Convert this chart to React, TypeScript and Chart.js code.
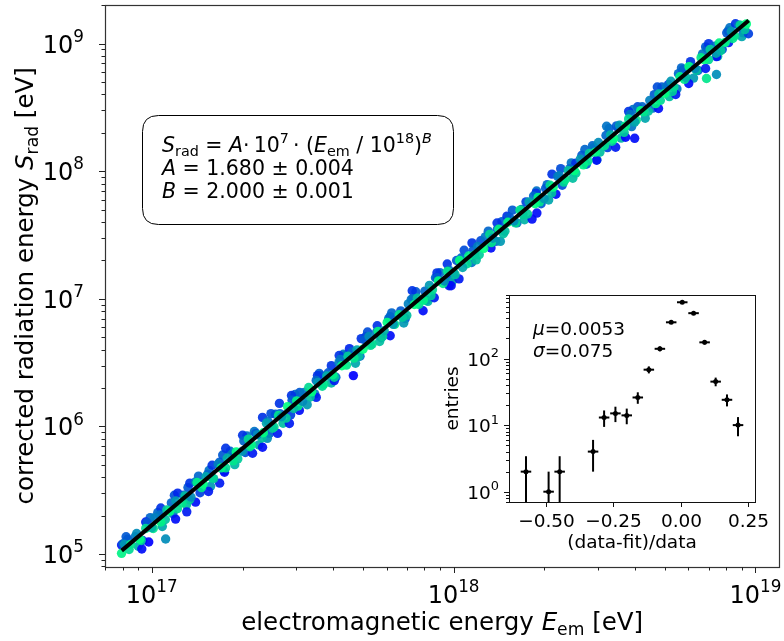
import React, { useEffect, useRef } from "react";
import { Chart, registerables } from "chart.js";
Chart.register(...registerables);

const FONT = '"DejaVu Sans", "Liberation Sans", sans-serif';

// ---------- main scatter data (log10 values) ----------
const coreLogE = [
  16.90, 16.91, 16.93, 16.95, 16.96, 16.98, 17.00, 17.01, 17.03, 17.05,
  17.06, 17.08, 17.10, 17.11, 17.13, 17.15, 17.17, 17.18, 17.20, 17.22,
  17.23, 17.25, 17.27, 17.28, 17.30, 17.32, 17.33, 17.35, 17.37, 17.38,
  17.40, 17.42, 17.43, 17.45, 17.47, 17.48, 17.50, 17.52, 17.53, 17.55,
  17.57, 17.58, 17.60, 17.62, 17.63, 17.65, 17.67, 17.68, 17.70, 17.72,
  17.73, 17.75, 17.77, 17.78, 17.80, 17.82, 17.83, 17.85, 17.87, 17.88,
  17.90, 17.92, 17.93, 17.95, 17.97, 17.98, 18.00, 18.02, 18.03, 18.05,
  18.07, 18.08, 18.10, 18.12, 18.13, 18.15, 18.17, 18.18, 18.20, 18.22,
  18.23, 18.25, 18.27, 18.28, 18.30, 18.32, 18.33, 18.35, 18.37, 18.38,
  18.40, 18.42, 18.43, 18.45, 18.47, 18.48, 18.50, 18.52, 18.53, 18.55,
  18.57, 18.58, 18.60, 18.62, 18.63, 18.65, 18.67, 18.68, 18.70, 18.72,
  18.73, 18.75, 18.77, 18.78, 18.80, 18.82, 18.83, 18.85, 18.87, 18.88,
  18.90, 18.92, 18.93, 18.95, 18.97,
];
const coreLogS = [
  5.005, 5.075, 5.075, 5.16, 5.115, 5.20, 5.205, 5.285, 5.25, 5.345,
  5.335, 5.415, 5.40, 5.455, 5.445, 5.56, 5.55, 5.605, 5.595, 5.705,
  5.675, 5.75, 5.73, 5.80, 5.805, 5.90, 5.855, 5.935, 5.95, 6.025,
  5.985, 6.085, 6.075, 6.155, 6.14, 6.20, 6.195, 6.305, 6.27, 6.345,
  6.33, 6.395, 6.405, 6.50, 6.475, 6.55, 6.535, 6.60, 6.605, 6.705,
  6.645, 6.745, 6.75, 6.815, 6.80, 6.875, 6.855, 6.96, 6.955, 7.005,
  6.99, 7.105, 7.07, 7.14, 7.14, 7.215, 7.205, 7.30, 7.245, 7.335,
  7.345, 7.41, 7.395, 7.505, 7.475, 7.545, 7.53, 7.60, 7.61, 7.695,
  7.66, 7.76, 7.745, 7.795, 7.785, 7.89, 7.875, 7.965, 7.935, 8.005,
  8.005, 8.095, 8.05, 8.14, 8.15, 8.225, 8.20, 8.285, 8.255, 8.36,
  8.355, 8.41, 8.385, 8.475, 8.465, 8.555, 8.53, 8.605, 8.61, 8.705,
  8.66, 8.74, 8.735, 8.82, 8.805, 8.89, 8.875, 8.955, 8.925, 9.005,
  9.01, 9.095, 9.06, 9.145, 9.155,
];
const coreColor = [
  0.95, 0.6, 0.9, 0.55, 1.0, 0.85, 0.7, 0.5, 0.95, 0.8,
  1.0, 0.6, 0.9, 0.75, 0.55, 0.95, 1.0, 0.65, 0.85, 0.5,
  0.95, 0.7, 0.9, 1.0, 0.6, 0.85, 0.95, 0.55, 1.0, 0.65,
  0.8, 0.9, 0.6, 1.0, 0.75, 0.95, 0.55, 0.85, 1.0, 0.6,
  0.9, 0.7, 0.95, 0.5, 1.0, 0.8, 0.9, 0.65, 1.0, 0.55,
  0.85, 0.95, 0.7, 1.0, 0.6, 0.9, 0.8, 0.5, 1.0, 0.75,
  0.95, 0.6, 0.85, 1.0, 0.55, 0.9, 0.7, 1.0, 0.65, 0.95,
  0.8, 0.5, 1.0, 0.85, 0.6, 0.95, 0.75, 1.0, 0.55, 0.9,
  0.8, 0.65, 1.0, 0.95, 0.6, 0.85, 1.0, 0.5, 0.9, 0.75,
  1.0, 0.6, 0.95, 0.8, 1.0, 0.55, 0.9, 0.7, 1.0, 0.6,
  0.95, 0.85, 0.65, 1.0, 0.9, 0.5, 0.95, 0.75, 1.0, 0.6,
  0.85, 0.95, 0.7, 1.0, 0.55, 0.9, 1.0, 0.8, 0.65, 0.95,
  1.0, 0.6, 0.9, 0.85, 1.0,
];

const midLogE = [
  16.905, 16.925, 16.945, 16.965, 16.985, 17.005, 17.025, 17.045, 17.065, 17.085,
  17.105, 17.125, 17.145, 17.165, 17.185, 17.205, 17.225, 17.245, 17.265, 17.285,
  17.305, 17.325, 17.345, 17.365, 17.385, 17.405, 17.425, 17.445, 17.465, 17.485,
  17.505, 17.525, 17.545, 17.565, 17.585, 17.605, 17.625, 17.645, 17.665, 17.685,
  17.705, 17.725, 17.745, 17.765, 17.785, 17.805, 17.825, 17.845, 17.865, 17.885,
  17.905, 17.925, 17.945, 17.965, 17.985, 18.005, 18.025, 18.045, 18.065, 18.085,
  18.105, 18.125, 18.145, 18.165, 18.185, 18.205, 18.225, 18.245, 18.265, 18.285,
  18.305, 18.325, 18.345, 18.365, 18.385, 18.405, 18.425, 18.445, 18.465, 18.485,
  18.505, 18.525, 18.545, 18.565, 18.585, 18.605, 18.625, 18.645, 18.665, 18.685,
  18.705, 18.725, 18.745, 18.765, 18.785, 18.805, 18.825, 18.845, 18.865, 18.885,
  18.905, 18.925, 18.945, 18.965,
];
const midLogS = [
  5.08, 5.035, 5.135, 5.105, 5.245, 5.20, 5.305, 5.27, 5.40, 5.355,
  5.46, 5.425, 5.565, 5.52, 5.625, 5.59, 5.72, 5.675, 5.78, 5.745,
  5.885, 5.84, 5.945, 5.91, 6.04, 5.995, 6.10, 6.065, 6.205, 6.16,
  6.265, 6.23, 6.36, 6.315, 6.42, 6.385, 6.525, 6.48, 6.585, 6.55,
  6.68, 6.635, 6.74, 6.705, 6.845, 6.80, 6.905, 6.87, 7.00, 6.955,
  7.06, 7.025, 7.165, 7.12, 7.225, 7.19, 7.32, 7.275, 7.38, 7.345,
  7.485, 7.44, 7.545, 7.51, 7.64, 7.595, 7.70, 7.665, 7.805, 7.76,
  7.865, 7.83, 7.96, 7.915, 8.02, 7.985, 8.125, 8.08, 8.185, 8.15,
  8.28, 8.235, 8.34, 8.305, 8.445, 8.40, 8.505, 8.47, 8.60, 8.555,
  8.66, 8.625, 8.765, 8.72, 8.825, 8.79, 8.92, 8.875, 8.98, 8.945,
  9.085, 9.04, 9.145, 9.11,
];
const midColor = [
  0.4, 0.85, 0.45, 0.8, 0.35, 0.9, 0.45, 0.75, 0.4, 0.85,
  0.35, 0.8, 0.45, 0.9, 0.4, 0.75, 0.35, 0.85, 0.45, 0.8,
  0.4, 0.9, 0.35, 0.75, 0.45, 0.85, 0.4, 0.8, 0.35, 0.9,
  0.45, 0.75, 0.4, 0.85, 0.35, 0.8, 0.45, 0.9, 0.4, 0.75,
  0.35, 0.85, 0.45, 0.8, 0.4, 0.9, 0.35, 0.75, 0.45, 0.85,
  0.4, 0.8, 0.35, 0.9, 0.45, 0.75, 0.4, 0.85, 0.35, 0.8,
  0.45, 0.9, 0.4, 0.75, 0.35, 0.85, 0.45, 0.8, 0.4, 0.9,
  0.35, 0.75, 0.45, 0.85, 0.4, 0.8, 0.35, 0.9, 0.45, 0.75,
  0.4, 0.85, 0.35, 0.8, 0.45, 0.9, 0.4, 0.75, 0.35, 0.85,
  0.45, 0.8, 0.4, 0.9, 0.35, 0.75, 0.45, 0.85, 0.4, 0.8,
  0.35, 0.9, 0.45, 0.75,
];

const outerLogE = [
  16.915, 16.955, 16.995, 17.035, 17.075, 17.115, 17.155, 17.195, 17.235, 17.275,
  17.315, 17.355, 17.395, 17.435, 17.475, 17.515, 17.555, 17.595, 17.635, 17.675,
  17.715, 17.755, 17.795, 17.835, 17.875, 17.915, 17.955, 17.995, 18.035, 18.075,
  18.115, 18.155, 18.195, 18.235, 18.275, 18.315, 18.355, 18.395, 18.435, 18.475,
  18.515, 18.555, 18.595, 18.635, 18.675, 18.715, 18.755, 18.795, 18.835, 18.875,
  18.915, 18.955,
];
const outerLogS = [
  5.135, 5.06, 5.285, 5.215, 5.46, 5.385, 5.61, 5.53, 5.775, 5.70,
  5.925, 5.855, 6.10, 6.025, 6.25, 6.17, 6.415, 6.34, 6.565, 6.495,
  6.74, 6.665, 6.89, 6.81, 7.055, 6.98, 7.205, 7.135, 7.38, 7.305,
  7.53, 7.45, 7.695, 7.62, 7.845, 7.775, 8.02, 7.945, 8.17, 8.09,
  8.335, 8.26, 8.485, 8.415, 8.66, 8.585, 8.81, 8.73, 8.975, 8.90,
  9.125, 9.055,
];
const outerColor = [
  0.35, 0.7, 0.4, 0.65, 0.3, 0.75, 0.4, 0.6, 0.35, 0.7,
  0.45, 0.65, 0.3, 0.75, 0.4, 0.6, 0.35, 0.7, 0.45, 0.65,
  0.3, 0.75, 0.4, 0.6, 0.35, 0.7, 0.45, 0.65, 0.3, 0.75,
  0.4, 0.6, 0.35, 0.7, 0.45, 0.65, 0.3, 0.75, 0.4, 0.6,
  0.35, 0.7, 0.45, 0.65, 0.3, 0.75, 0.4, 0.6, 0.35, 0.7,
  0.45, 0.65,
];

const fringeLogE = [
  16.92, 16.97, 17.02, 17.07, 17.12, 17.16, 17.19, 17.24, 17.26, 17.31,
  17.34, 17.39, 17.41, 17.46, 17.49, 17.54, 17.56, 17.61, 17.64, 17.69,
  17.71, 17.76, 17.79, 17.84, 17.86, 17.91, 17.94, 17.99, 18.01, 18.06,
  18.09, 18.14, 18.16, 18.21, 18.24, 18.29, 18.31, 18.36, 18.39, 18.44,
  18.46, 18.51, 18.54, 18.59, 18.61, 18.66, 18.69, 18.74, 18.76, 18.81,
  18.84, 18.89, 18.91, 18.96,
];
const fringeLogS = [
  5.115, 5.105, 5.325, 5.315, 5.52, 5.48, 5.655, 5.65, 5.805, 5.795,
  5.96, 5.945, 6.095, 6.09, 6.265, 6.255, 6.40, 6.385, 6.555, 6.55,
  6.705, 6.695, 6.86, 6.845, 6.995, 6.99, 7.165, 7.155, 7.30, 7.285,
  7.455, 7.45, 7.605, 7.595, 7.76, 7.745, 7.895, 7.89, 8.065, 8.055,
  8.20, 8.185, 8.355, 8.35, 8.505, 8.495, 8.66, 8.645, 8.795, 8.79,
  8.965, 8.955, 9.10, 9.085,
];
const fringeColor = [
  0.35, 0.3, 0.4, 0.45, 0.35, 0.25, 0.45, 0.35, 0.4, 0.3,
  0.45, 0.35, 0.4, 0.25, 0.35, 0.45, 0.3, 0.4, 0.35, 0.45,
  0.25, 0.35, 0.4, 0.3, 0.45, 0.35, 0.4, 0.25, 0.35, 0.45,
  0.3, 0.4, 0.35, 0.45, 0.25, 0.35, 0.4, 0.3, 0.45, 0.35,
  0.4, 0.25, 0.35, 0.45, 0.3, 0.4, 0.35, 0.45, 0.25, 0.35,
  0.4, 0.3, 0.45, 0.35,
];

const outLogE = [
  16.90, 16.967, 16.99, 17.046, 16.98, 17.03, 17.079, 17.086, 17.116, 17.126,
  17.145, 17.188, 17.2, 17.225, 17.241, 17.245, 17.301, 17.334, 17.367, 17.383,
  17.367, 17.417, 17.423, 17.456, 17.463, 17.489, 17.545, 17.549, 17.595, 17.605,
  17.621, 17.655, 17.668, 17.694, 17.747, 17.79, 17.863, 17.899, 17.936, 17.945,
  17.979, 17.985, 17.992, 18.018, 18.061, 18.124, 18.144, 18.177, 18.26, 18.276,
  18.273, 18.326, 18.339, 18.405, 18.474, 18.507, 18.537, 18.57, 18.6, 18.58,
  18.679, 18.712, 18.736, 18.779, 18.785, 18.835, 18.838, 18.845, 18.871, 18.871,
  18.911, 18.934, 18.977,
];
const outLogS = [
  5.07, 5.039, 5.094, 5.117, 5.25, 5.36, 5.273, 5.477, 5.33, 5.555,
  5.406, 5.49, 5.695, 5.555, 5.64, 5.828, 5.93, 5.789, 5.836, 5.906,
  6.07, 5.945, 6.18, 6.023, 6.242, 6.125, 6.227, 6.398, 6.476, 6.359,
  6.555, 6.609, 6.398, 6.688, 6.789, 6.71, 7.063, 6.906, 7.008, 7.203,
  7.273, 7.102, 7.102, 7.156, 7.438, 7.398, 7.594, 7.648, 7.625, 7.672,
  7.828, 7.977, 7.82, 8.063, 8.086, 8.352, 8.188, 8.266, 8.258, 8.469,
  8.492, 8.68, 8.602, 8.688, 8.859, 8.805, 8.727, 9.0, 8.898, 8.758,
  9.008, 9.156, 9.078,
];
const outColor = [
  0.1, 0.05, 0.0, 0.55, 0.1, 0.2, 0.05, 0.15, 0.1, 0.2,
  0.05, 0.1, 0.2, 0.1, 0.05, 0.2, 0.2, 0.1, 0.05, 0.55,
  0.2, 0.1, 0.2, 0.1, 0.2, 0.05, 0.1, 0.2, 0.2, 0.1,
  0.2, 0.15, 0.0, 0.2, 0.2, 0.05, 0.2, 0.05, 0.1, 0.2,
  0.2, 0.1, 0.05, 0.1, 0.2, 0.05, 0.2, 0.2, 0.05, 0.05,
  0.2, 0.2, 0.05, 0.2, 0.05, 0.45, 0.1, 0.0, 0.05, 0.2,
  0.05, 0.2, 0.1, 0.05, 0.2, 0.1, 0.9, 0.2, 0.05, 0.55,
  0.1, 0.2, 0.25,
];

// fit result
const fitA = 1.68;
const fitB = 2.0;
const fitERange = [7.95e16, 9.5e18];

// main axes
const xTickExps = [17, 18, 19];
const yTickExps = [5, 6, 7, 8, 9];

// ---------- inset histogram ----------
const histX = [-0.574, -0.49, -0.449, -0.325, -0.284, -0.242, -0.2, -0.159, -0.118, -0.077, -0.035, 0.006, 0.048, 0.089, 0.13, 0.172, 0.213];
const histN = [2, 1, 2, 4, 13, 15, 14, 26, 68, 140, 350, 700, 480, 175, 45, 24, 10];
const histErr = [1.41, 1, 1.41, 2, 3.6, 3.9, 3.7, 5.1, 8.2, 11.8, 18.7, 26.5, 21.9, 13.2, 6.7, 4.9, 3.2];
const histHalfBin = 0.0195;
const insetXTicks = [-0.5, -0.25, 0, 0.25];
const insetXLabels = ["\u22120.50", "\u22120.25", "0.00", "0.25"];
const insetYTickExps = [0, 1, 2];

type Seg = { t: string; it?: boolean; pos?: "sup" | "sub" };

function segFont(s: Seg, size: number) {
  const fs = s.pos ? size * 0.7 : size;
  return `${s.it ? "italic " : ""}${fs}px ${FONT}`;
}
function drawRich(ctx: CanvasRenderingContext2D, segs: Seg[], x: number, y: number, size: number, align: "left" | "center" | "right") {
  let w = 0;
  for (const s of segs) {
    ctx.font = segFont(s, size);
    w += ctx.measureText(s.t).width;
  }
  let cx = align === "center" ? x - w / 2 : align === "right" ? x - w : x;
  ctx.textAlign = "left";
  ctx.textBaseline = "alphabetic";
  for (const s of segs) {
    ctx.font = segFont(s, size);
    const dy = s.pos === "sup" ? -size * 0.45 : s.pos === "sub" ? size * 0.2 : 0;
    ctx.fillText(s.t, cx, y + dy);
    cx += ctx.measureText(s.t).width;
  }
}

function winter(c: number) {
  return `rgba(0, ${Math.round(255 * c)}, ${Math.round(255 * (1 - 0.5 * c))}, 0.92)`;
}

function pts(lx: number[], ly: number[]) {
  const n = Math.min(lx.length, ly.length);
  const out: { x: number; y: number }[] = [];
  for (let i = 0; i < n; i++) out.push({ x: Math.pow(10, lx[i]), y: Math.pow(10, ly[i]) });
  return out;
}

function roundRect(ctx: CanvasRenderingContext2D, x: number, y: number, w: number, h: number, r: number) {
  ctx.beginPath();
  ctx.moveTo(x + r, y);
  ctx.lineTo(x + w - r, y);
  ctx.quadraticCurveTo(x + w, y, x + w, y + r);
  ctx.lineTo(x + w, y + h - r);
  ctx.quadraticCurveTo(x + w, y + h, x + w - r, y + h);
  ctx.lineTo(x + r, y + h);
  ctx.quadraticCurveTo(x, y + h, x, y + h - r);
  ctx.lineTo(x, y + r);
  ctx.quadraticCurveTo(x, y, x + r, y);
  ctx.closePath();
}

const mainPlugin = {
  id: "mainDecor",
  afterDraw(chart: any) {
    const ctx: CanvasRenderingContext2D = chart.ctx;
    const ca = chart.chartArea;
    const xs = chart.scales.x;
    const ys = chart.scales.y;
    ctx.save();
    ctx.strokeStyle = "#333";
    ctx.lineWidth = 1.2;
    ctx.strokeRect(Math.round(ca.left) + 0.5, Math.round(ca.top) + 0.5, Math.round(ca.right - ca.left), Math.round(ca.bottom - ca.top));
    ctx.strokeStyle = "#222";
    ctx.lineWidth = 1;
    for (let d = 16; d <= 19; d++) {
      for (let k = 1; k <= 9; k++) {
        const v = k * Math.pow(10, d);
        if (v < xs.min || v > xs.max) continue;
        const px = Math.round(xs.getPixelForValue(v)) + 0.5;
        const len = k === 1 ? 6 : 3.5;
        ctx.beginPath();
        ctx.moveTo(px, ca.bottom);
        ctx.lineTo(px, ca.bottom + len);
        ctx.stroke();
      }
    }
    for (let d = 4; d <= 9; d++) {
      for (let k = 1; k <= 9; k++) {
        const v = k * Math.pow(10, d);
        if (v < ys.min || v > ys.max) continue;
        const py = Math.round(ys.getPixelForValue(v)) + 0.5;
        const len = k === 1 ? 6 : 3.5;
        ctx.beginPath();
        ctx.moveTo(ca.left, py);
        ctx.lineTo(ca.left - len, py);
        ctx.stroke();
      }
    }
    ctx.fillStyle = "#000";
    const TF = 24;
    for (const e of xTickExps) {
      const px = xs.getPixelForValue(Math.pow(10, e));
      drawRich(ctx, [{ t: "10" }, { t: String(e), pos: "sup" }], px, ca.bottom + 36, TF, "center");
    }
    for (const e of yTickExps) {
      const py = ys.getPixelForValue(Math.pow(10, e));
      drawRich(ctx, [{ t: "10" }, { t: String(e), pos: "sup" }], 84, py + 9, TF, "right");
    }
    const LF = 24.5;
    drawRich(ctx, [{ t: "electromagnetic energy " }, { t: "E", it: true }, { t: "em", pos: "sub" }, { t: " [eV]" }], (ca.left + ca.right) / 2, 630, LF, "center");
    ctx.save();
    ctx.translate(33, (ca.top + ca.bottom) / 2);
    ctx.rotate(-Math.PI / 2);
    drawRich(ctx, [{ t: "corrected radiation energy " }, { t: "S", it: true }, { t: "rad", pos: "sub" }, { t: " [eV]" }], 0, 0, LF, "center");
    ctx.restore();
    roundRect(ctx, 142.5, 115.5, 311, 109, 16);
    ctx.fillStyle = "#fff";
    ctx.fill();
    ctx.strokeStyle = "#000";
    ctx.lineWidth = 1;
    ctx.stroke();
    ctx.fillStyle = "#000";
    const BF = 20.5;
    drawRich(ctx, [
      { t: "S", it: true }, { t: "rad", pos: "sub" }, { t: " = " }, { t: "A", it: true }, { t: "\u00b7\u200910" }, { t: "7", pos: "sup" },
      { t: "\u2009\u00b7 (" }, { t: "E", it: true }, { t: "em", pos: "sub" }, { t: " / 10" }, { t: "18", pos: "sup" }, { t: ")" }, { t: "B", it: true, pos: "sup" },
    ], 162, 152, BF, "left");
    drawRich(ctx, [{ t: "A", it: true }, { t: " = 1.680 \u00b1 0.004" }], 162, 175, BF, "left");
    drawRich(ctx, [{ t: "B", it: true }, { t: " = 2.000 \u00b1 0.001" }], 162, 198, BF, "left");
    ctx.restore();
  },
};

const insetPlugin = {
  id: "insetDecor",
  beforeDatasetsDraw(chart: any) {
    const ctx: CanvasRenderingContext2D = chart.ctx;
    const ca = chart.chartArea;
    ctx.save();
    ctx.fillStyle = "#fff";
    ctx.fillRect(ca.left, ca.top, ca.right - ca.left, ca.bottom - ca.top);
    const xs = chart.scales.x;
    const ys = chart.scales.y;
    ctx.beginPath();
    ctx.rect(ca.left, ca.top, ca.right - ca.left, ca.bottom - ca.top);
    ctx.clip();
    ctx.strokeStyle = "#000";
    ctx.lineWidth = 2;
    for (let i = 0; i < histX.length; i++) {
      const px = xs.getPixelForValue(histX[i]);
      const py = ys.getPixelForValue(histN[i]);
      const lo = histN[i] - histErr[i];
      const pyLo = lo > 0 ? ys.getPixelForValue(lo) : ca.bottom + 5;
      const pyHi = ys.getPixelForValue(histN[i] + histErr[i]);
      ctx.beginPath();
      ctx.moveTo(px, Math.min(pyLo, ca.bottom + 5));
      ctx.lineTo(px, pyHi);
      ctx.stroke();
      ctx.beginPath();
      ctx.moveTo(xs.getPixelForValue(histX[i] - histHalfBin), py);
      ctx.lineTo(xs.getPixelForValue(histX[i] + histHalfBin), py);
      ctx.stroke();
    }
    ctx.restore();
  },
  afterDraw(chart: any) {
    const ctx: CanvasRenderingContext2D = chart.ctx;
    const ca = chart.chartArea;
    const xs = chart.scales.x;
    const ys = chart.scales.y;
    ctx.save();
    ctx.strokeStyle = "#111";
    ctx.lineWidth = 1;
    ctx.strokeRect(Math.round(ca.left) + 0.5, Math.round(ca.top) + 0.5, Math.round(ca.right - ca.left), Math.round(ca.bottom - ca.top));
    const F = 18.5;
    ctx.fillStyle = "#000";
    insetXTicks.forEach((v, i) => {
      const px = Math.round(xs.getPixelForValue(v)) + 0.5;
      ctx.beginPath();
      ctx.moveTo(px, ca.bottom);
      ctx.lineTo(px, ca.bottom + 5);
      ctx.stroke();
      drawRich(ctx, [{ t: insetXLabels[i] }], px, ca.bottom + 25, F, "center");
    });
    for (let d = -1; d <= 2; d++) {
      for (let k = 1; k <= 9; k++) {
        const v = k * Math.pow(10, d);
        if (v < ys.min || v > ys.max) continue;
        const py = Math.round(ys.getPixelForValue(v)) + 0.5;
        const len = k === 1 ? 5 : 3;
        ctx.beginPath();
        ctx.moveTo(ca.left, py);
        ctx.lineTo(ca.left - len, py);
        ctx.stroke();
      }
    }
    for (const e of insetYTickExps) {
      const py = ys.getPixelForValue(Math.pow(10, e));
      drawRich(ctx, [{ t: "10" }, { t: String(e), pos: "sup" }], ca.left - 10, py + 7, F, "right");
    }
    drawRich(ctx, [{ t: "(data-fit)/data" }], (ca.left + ca.right) / 2, 548, F, "center");
    ctx.save();
    ctx.translate(458, (ca.top + ca.bottom) / 2);
    ctx.rotate(-Math.PI / 2);
    drawRich(ctx, [{ t: "entries" }], 0, 0, F, "center");
    ctx.restore();
    drawRich(ctx, [{ t: "\u03bc", it: true }, { t: "=0.0053" }], 533, 335, F, "left");
    drawRich(ctx, [{ t: "\u03c3", it: true }, { t: "=0.075" }], 533, 357, F, "left");
    ctx.restore();
  },
};

export default function App() {
  const mainRef = useRef<HTMLCanvasElement>(null);
  const insetRef = useRef<HTMLCanvasElement>(null);

  useEffect(() => {
    document.body.style.margin = "0";
    const fitData = fitERange.map((e) => ({ x: e, y: fitA * 1e7 * Math.pow(e / 1e18, fitB) }));
    const hideScale = (axis: "x" | "y") => ({
      display: true,
      ticks: { display: false },
      grid: { display: false },
      border: { display: false },
      afterFit: (s: any) => {
        if (axis === "x") s.height = 0;
        else s.width = 0;
      },
    });
    const R = 4.7;
    const main = new Chart(mainRef.current!, {
      type: "scatter",
      data: {
        datasets: [
          { data: fitData, showLine: true, borderColor: "#000", borderWidth: 4, pointRadius: 0, order: 0 } as any,
          { data: pts(coreLogE, coreLogS), pointRadius: R, pointBorderWidth: 0, pointBackgroundColor: coreColor.map(winter), order: 1 },
          { data: pts(midLogE, midLogS), pointRadius: R, pointBorderWidth: 0, pointBackgroundColor: midColor.map(winter), order: 2 },
          { data: pts(outLogE, outLogS), pointRadius: R, pointBorderWidth: 0, pointBackgroundColor: outColor.map(winter), order: 3 },
          { data: pts(outerLogE, outerLogS), pointRadius: R, pointBorderWidth: 0, pointBackgroundColor: outerColor.map(winter), order: 4 },
          { data: pts(fringeLogE, fringeLogS), pointRadius: R, pointBorderWidth: 0, pointBackgroundColor: fringeColor.map(winter), order: 5 },
        ],
      },
      options: {
        responsive: false,
        animation: false,
        devicePixelRatio: 1,
        layout: { padding: { left: 105, top: 3, right: 3, bottom: 74 } },
        plugins: { legend: { display: false }, tooltip: { enabled: false } },
        scales: {
          x: { type: "logarithmic", min: 7e16, max: 1.2e19, ...hideScale("x") } as any,
          y: { type: "logarithmic", min: 7.9e4, max: 2.02e9, ...hideScale("y") } as any,
        },
      },
      plugins: [mainPlugin],
    });

    const inset = new Chart(insetRef.current!, {
      type: "scatter",
      data: {
        datasets: [
          { data: histX.map((x, i) => ({ x, y: histN[i] })), pointRadius: 2.5, pointBorderWidth: 0, pointBackgroundColor: "#000" },
        ],
      },
      options: {
        responsive: false,
        animation: false,
        devicePixelRatio: 1,
        layout: { padding: { left: 509, top: 295, right: 29, bottom: 139 } },
        plugins: { legend: { display: false }, tooltip: { enabled: false } },
        scales: {
          x: { type: "linear", min: -0.637, max: 0.276, ...hideScale("x") } as any,
          y: { type: "logarithmic", min: 0.73, max: 900, ...hideScale("y") } as any,
        },
      },
      plugins: [insetPlugin],
    });

    return () => {
      main.destroy();
      inset.destroy();
    };
  }, []);

  return (
    <div style={{ position: "absolute", left: 0, top: 0, width: 784, height: 641, background: "#fff" }}>
      <canvas ref={mainRef} width={784} height={641} style={{ position: "absolute", left: 0, top: 0, width: 784, height: 641 }} />
      <canvas ref={insetRef} width={784} height={641} style={{ position: "absolute", left: 0, top: 0, width: 784, height: 641 }} />
    </div>
  );
}
